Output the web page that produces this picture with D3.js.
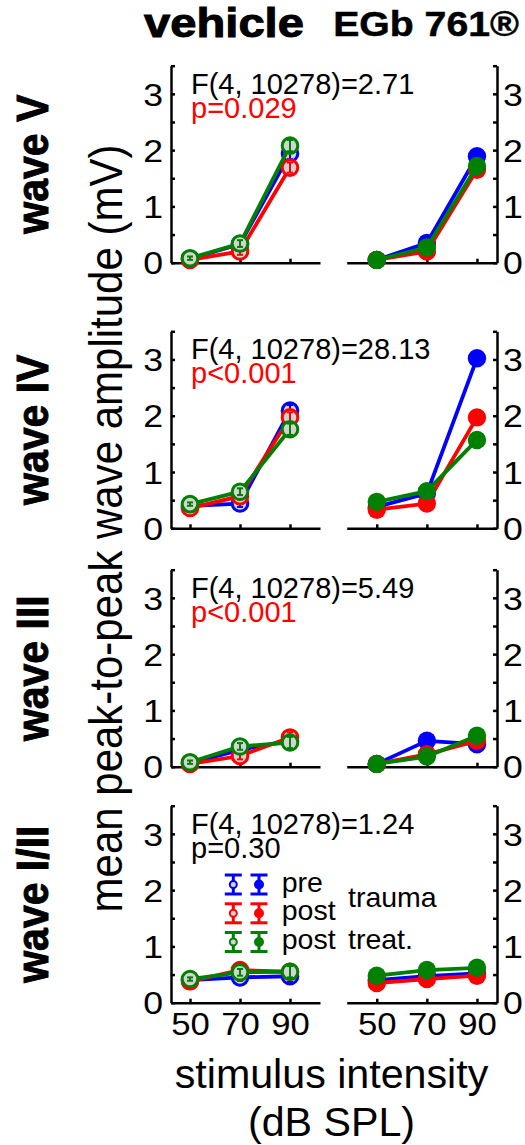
<!DOCTYPE html>
<html lang="en">
<head>
<meta charset="UTF-8">
<title>ABR wave amplitudes</title>
<script src="https://cdn.jsdelivr.net/npm/d3@7"></script>
<style>
  body { margin: 0; background: #fff; }
  svg { display: block; font-family: "Liberation Sans", Arial, sans-serif; }
</style>
</head>
<body>
<div id="chart"></div>
<script>
// data (mV)
const intensities = [50, 70, 90];
const waveNames = ["wave V", "wave IV", "wave III", "wave I/II"];
const groupTitles = ["vehicle", "EGb 761®"];
const seriesNames = ["pre", "post", "post"];
const seriesColors = ["#0000ff", "#ff0000", "#008000"];
const statF = ["F(4, 10278)=2.71", "F(4, 10278)=28.13", "F(4, 10278)=5.49", "F(4, 10278)=1.24"];
const statP = ["p=0.029", "p<0.001", "p<0.001", "p=0.30"];
const statPColor = ["#ff0000", "#ff0000", "#ff0000", "#000000"];
const yTicks = [0, 0.5, 1, 1.5, 2, 2.5, 3, 3.5];

// rows: pre trauma, post trauma, post treat.
const vehicleWaveV = [[0.07, 0.33, 1.94], [0.05, 0.20, 1.69], [0.08, 0.34, 2.08]];
const egbWaveV     = [[0.05, 0.35, 1.89], [0.05, 0.20, 1.65], [0.05, 0.27, 1.72]];
const vehicleWaveIV = [[0.40, 0.44, 2.09], [0.36, 0.57, 1.97], [0.43, 0.65, 1.76]];
const egbWaveIV     = [[0.38, 0.62, 3.02], [0.33, 0.44, 1.97], [0.47, 0.66, 1.57]];
const vehicleWaveIII = [[0.06, 0.30, 0.46], [0.05, 0.19, 0.52], [0.08, 0.36, 0.43]];
const egbWaveIII     = [[0.05, 0.46, 0.40], [0.05, 0.22, 0.46], [0.05, 0.18, 0.55]];
const vehicleWaveI = [[0.40, 0.45, 0.47], [0.38, 0.58, 0.55], [0.42, 0.54, 0.55]];
const egbWaveI     = [[0.40, 0.47, 0.52], [0.35, 0.42, 0.48], [0.48, 0.58, 0.62]];

// standard errors (mostly hidden inside the markers)
const vehicleErr = [[0.03, 0.06, 0.10], [0.03, 0.06, 0.09], [0.03, 0.06, 0.10]];
const egbErr     = [[0.03, 0.05, 0.08], [0.03, 0.05, 0.08], [0.03, 0.05, 0.08]];

const vehicleData = [vehicleWaveV, vehicleWaveIV, vehicleWaveIII, vehicleWaveI];
const egbData = [egbWaveV, egbWaveIV, egbWaveIII, egbWaveI];

const W = 525, H = 1145;
const svg = d3.select("#chart").append("svg").attr("width", W).attr("height", H);

// text is a bit wider than the plain font in the original
function label(g, x, y, s, size, opt = {}) {
  const k = opt.k || 1.1;
  const tr = opt.rotate
    ? `translate(${x},${y}) rotate(-90) scale(1,${k})`
    : `translate(${x},${y}) scale(${k},1)`;
  const t = g.append("text")
    .attr("transform", tr)
    .attr("text-anchor", opt.anchor || "start")
    .attr("font-size", size)
    .attr("font-weight", opt.bold ? "bold" : "normal")
    .attr("fill", opt.color || "#000")
    .text(s);
  if (opt.heavy) t.attr("stroke", "#000").attr("stroke-width", opt.heavy);
  return t;
}

const panelBottoms = [262.7, 528.3, 766.7, 1002.7];
const panelH = 197;
const y0 = d3.scaleLinear().domain([0, 3.5]);
const xLeft = d3.scaleLinear().domain([42.4, 102]).range([171, 320]);
const xRight = d3.scaleLinear().domain([38, 98]).range([346.7, 497]);

function styleAxis(g) {
  g.select(".domain").attr("stroke", "#000").attr("stroke-width", 2.5);
  g.selectAll(".tick line").attr("stroke", "#000").attr("stroke-width", 2.5);
  g.selectAll(".tick text").attr("font-size", 31).attr("fill", "#000")
    .attr("font-family", "'Liberation Sans', Arial, sans-serif");
}

waveNames.forEach((wave, wi) => {
  const bottom = panelBottoms[wi];
  const y = y0.copy().range([bottom, bottom - panelH]);
  const g = svg.append("g");

  [[xLeft, vehicleData[wi], vehicleErr, true], [xRight, egbData[wi], egbErr, false]]
    .forEach(([x, data, err, open], side) => {
      // axes
      const ya = side === 0 ? d3.axisLeft(y) : d3.axisRight(y);
      ya.tickValues(yTicks).tickSize(-4).tickSizeOuter(0).tickPadding(8)
        .tickFormat(d => (d % 1 === 0 ? d : ""));
      const ay = g.append("g")
        .attr("transform", `translate(${side === 0 ? x.range()[0] : x.range()[1]},0)`)
        .call(ya);
      styleAxis(ay);
      ay.selectAll(".tick text")
        .attr("x", side === 0 ? -8 / 1.15 : 6 / 1.15)
        .attr("dy", "0.36em")
        .attr("transform", "scale(1.15,1)");

      const xa = d3.axisBottom(x).tickValues(intensities).tickSize(-4).tickSizeOuter(0).tickPadding(8)
        .tickFormat(wi === 3 ? d3.format("d") : () => "");
      const ax = g.append("g").attr("transform", `translate(0,${bottom})`).call(xa);
      styleAxis(ax);
      ax.selectAll(".tick text").attr("y", 10).attr("dy", "0.71em")
        .attr("transform", "scale(1.12,1)").attr("x", 0)
        .attr("text-anchor", "middle");

      // series
      const line = d3.line().x((d, i) => x(intensities[i])).y(d => y(d));
      data.forEach((vals, si) => {
        const c = seriesColors[si];
        g.append("path").datum(vals).attr("d", line)
          .attr("fill", "none").attr("stroke", c).attr("stroke-width", 3.8);
        const pts = g.append("g");
        pts.selectAll("circle").data(vals).join("circle")
          .attr("cx", (d, i) => x(intensities[i])).attr("cy", d => y(d))
          .attr("r", open ? 7.8 : 9.2)
          .attr("fill", open ? "#d3d3d3" : c)
          .attr("stroke", c).attr("stroke-width", open ? 3 : 0);
        const eb = pts.selectAll("g.eb").data(vals).join("g").attr("class", "eb")
          .attr("stroke", c).attr("stroke-width", 2);
        eb.append("line")
          .attr("x1", (d, i) => x(intensities[i])).attr("x2", (d, i) => x(intensities[i]))
          .attr("y1", (d, i) => y(d - err[si][i])).attr("y2", (d, i) => y(d + err[si][i]));
        [-1, 1].forEach(s => {
          eb.append("line")
            .attr("x1", (d, i) => x(intensities[i]) - 3).attr("x2", (d, i) => x(intensities[i]) + 3)
            .attr("y1", (d, i) => y(d + s * err[si][i])).attr("y2", (d, i) => y(d + s * err[si][i]));
        });
      });
    });

  // stats
  label(g, 191, bottom - panelH + 28, statF[wi], 29, { k: 1.0 });
  label(g, 191, bottom - panelH + 52, statP[wi], 29, { k: 1.0, color: statPColor[wi] });

  // row label
  label(svg, 48, bottom - panelH / 2, wave, 41, { rotate: true, bold: true, anchor: "middle", k: 1.09, heavy: 0.9 });
});

// group titles
label(svg, 224, 37, groupTitles[0], 41, { bold: true, anchor: "middle", k: 1.15, heavy: 1 });
label(svg, 426, 36, groupTitles[1], 35, { bold: true, anchor: "middle", k: 1.12, heavy: 0.5 });

// y title
label(svg, 122, 528.5, "mean peak-to-peak wave amplitude (mV)", 42, { rotate: true, anchor: "middle", k: 1.12 });

// x title
label(svg, 331.5, 1088, "stimulus intensity", 40, { anchor: "middle", k: 1.03 });
label(svg, 331.5, 1136, "(dB SPL)", 40, { anchor: "middle", k: 1.03 });

// legend
const legendRows = [884.5, 913.3, 942];
const lg = svg.append("g");
seriesNames.forEach((name, si) => {
  const c = seriesColors[si];
  const cy = legendRows[si];
  [[233.3, true], [259, false]].forEach(([cx, open]) => {
    const s = lg.append("g").attr("stroke", c).attr("stroke-width", 3);
    s.append("line").attr("x1", cx).attr("x2", cx).attr("y1", cy - 9.5).attr("y2", cy + 9.5);
    s.append("line").attr("x1", cx - 8.5).attr("x2", cx + 8.5).attr("y1", cy - 9.5).attr("y2", cy - 9.5);
    s.append("line").attr("x1", cx - 8.5).attr("x2", cx + 8.5).attr("y1", cy + 9.5).attr("y2", cy + 9.5);
    s.append("circle").attr("cx", cx).attr("cy", cy).attr("r", open ? 3.5 : 5)
      .attr("fill", open ? "#d3d3d3" : c).attr("stroke-width", open ? 2 : 0);
  });
  label(lg, 281.7, cy + 7, name, 28.5, { k: 1.0 });
});
label(lg, 348, 907, "trauma", 28.5, { k: 1.0 });
label(lg, 348, 949, "treat.", 28.5, { k: 1.0 });
</script>
</body>
</html>
